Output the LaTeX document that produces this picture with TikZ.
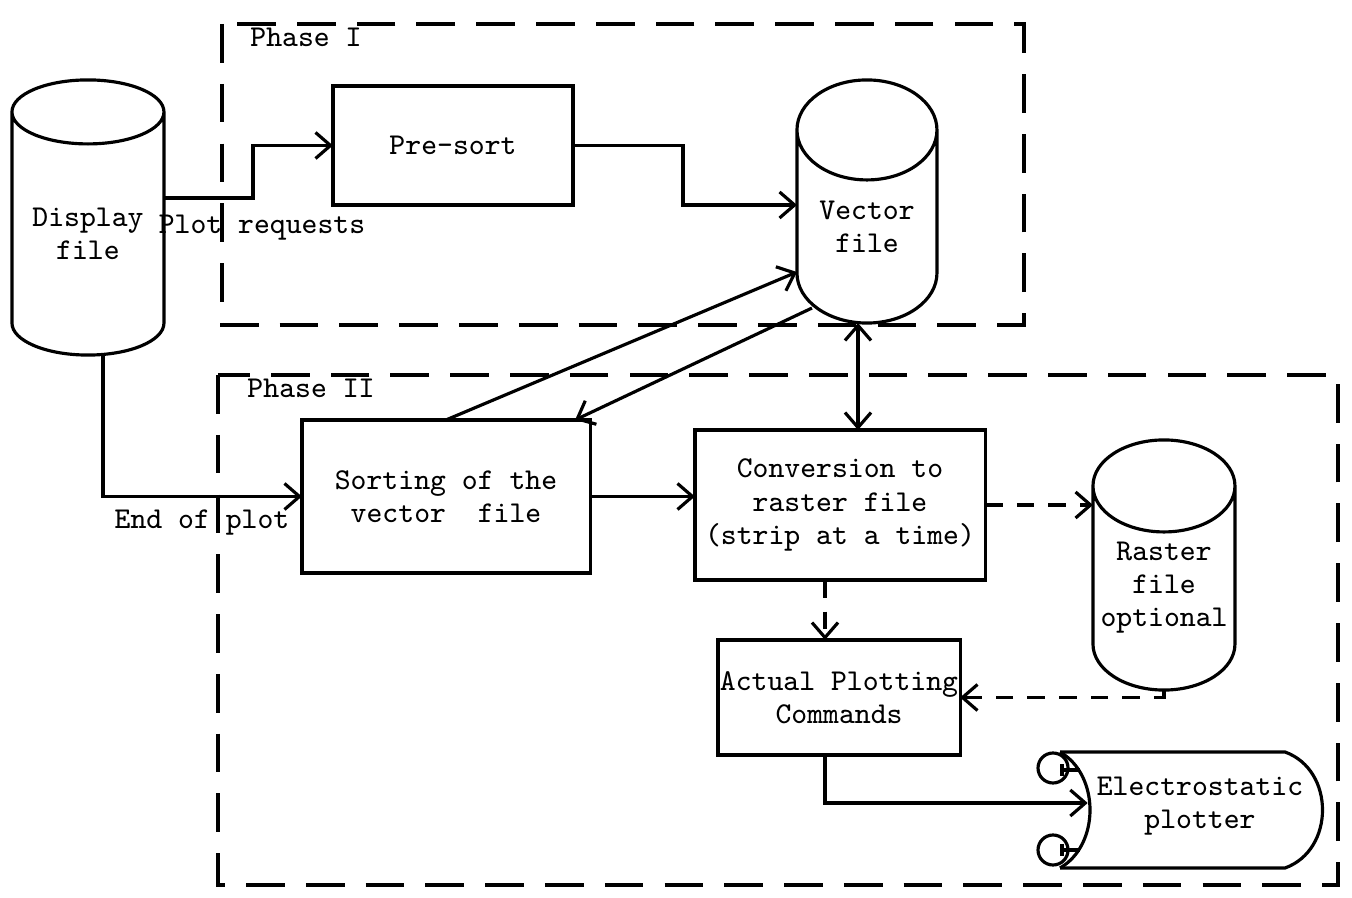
\documentclass[tikz,border=0pt]{standalone}
\usepackage{fontspec}
\usepackage{tikz}
\usetikzlibrary{arrows.meta, positioning, calc}

% drum outline round a named node: node, x radius, y radius
\newcommand{\drum}[3]{%
  \draw[line width=0.9pt] (#1.north west) arc[start angle=180, end angle=-180, x radius=#2, y radius=#3]
    -- ($(#1.south west)+(0,#3)$) arc[start angle=180, end angle=360, x radius=#2, y radius=#3]
    -- (#1.north east);
}

\begin{document}
\begin{tikzpicture}[x=0.01cm, y=0.01cm,
  every node/.style={font=\fontsize{8.6}{9.4}\selectfont\ttfamily},
  box/.style={draw, line width=0.9pt, inner sep=0pt, outer sep=0pt, align=center},
  drumnode/.style={inner sep=0pt, outer sep=0pt, align=center},
  arr/.style={line width=0.9pt, -{Straight Barb[length=1.5mm, width=2.6mm]}},
  darr/.style={arr, dash pattern=on 5pt off 4pt},
  phase/.style={line width=0.9pt, dash pattern=on 11pt off 6pt},
]
  \useasboundingbox (0,0) rectangle (1352,-898);

  % Phase frames
  \draw[phase] (222,-24) rectangle (1024,-325);
  \draw[phase] (218,-375) rectangle (1338,-885);
  \node (ph1) at (306,-37) {Phase I};
  \node (ph2) at (311,-388) {Phase II};

  % Files
  \node[drumnode, minimum width=1.52cm, minimum height=2.43cm] (disp) at (88,-233.5) {Display\\file};
  \node[drumnode, minimum width=1.40cm, minimum height=1.93cm] (vector) at (867,-226.5) {Vector\\file};
  \node[drumnode, minimum width=1.42cm, minimum height=2.04cm] (raster) at (1164,-588) {Raster\\file\\optional};
  \drum{disp}{76}{32}
  \drum{vector}{70}{50}
  \drum{raster}{71}{46}

  % Processing steps
  \node[box, minimum width=2.40cm, minimum height=1.19cm] (presort) at (453,-145.5) {Pre-sort};
  \node[box, minimum width=2.88cm, minimum height=1.53cm] (sort) at (446,-496.5) {Sorting of the\\vector~~file};
  \node[box, minimum width=2.90cm, minimum height=1.50cm] (conv) at (840,-505) {Conversion to\\raster file\\(strip at a time)};
  \node[box, minimum width=2.42cm, minimum height=1.15cm] (act) at (839,-697.5) {Actual Plotting\\Commands};

  % Electrostatic plotter
  \node[inner sep=0pt, align=center, minimum width=2.63cm, minimum height=1.16cm] (plot) at (1200,-806) {Electrostatic\\plotter};
  \draw[line width=0.9pt] (1060,-752) -- (1285,-752) .. controls (1335,-770) and (1335,-850) .. (1285,-868) -- (1060,-868);
  \draw[line width=0.9pt] (1060,-752) .. controls (1100,-775) and (1100,-845) .. (1060,-868);
  \draw[line width=0.9pt] (1053,-768) circle[radius=15];
  \draw[line width=0.9pt] (1053,-850) circle[radius=15];
  \draw[line width=0.9pt] (1062,-764) -- (1062,-776) (1062,-770) -- (1080,-770);
  \draw[line width=0.9pt] (1062,-844) -- (1062,-856) (1062,-850) -- (1080,-850);

  % Phase I flow
  \draw[arr] ([yshift=0.355cm]disp.east) -- ++(89,0) |- (presort.west);
  \node (plotreq) at (262,-228) {Plot requests};
  \draw[arr] (presort.east) -- ++(110,0) |- ([yshift=0.215cm]vector.west);

  % Phase II flow
  \draw[arr] ([xshift=0.15cm]disp.south) |- (sort.west);
  \node (endplot) at (202,-523) {End of plot};
  \draw[arr] (sort.north) -- ([yshift=-0.455cm]vector.west);
  \draw[arr] ($(vector.south west)+(15,15)$) -- ([xshift=-0.15cm]sort.north east);
  \draw[{Straight Barb[length=1.5mm, width=2.6mm]}-{Straight Barb[length=1.5mm, width=2.6mm]}, line width=0.9pt]
    ([xshift=-0.09cm]vector.south) -- ([xshift=-0.09cm]vector.south |- conv.north);
  \draw[arr] (sort.east) -- (sort.east -| conv.west);
  \draw[darr] (conv.east) -- (conv.east -| raster.west);
  \draw[darr] ([xshift=-0.14cm]act.north |- conv.south) -- ([xshift=-0.14cm]act.north);
  \draw[darr] (raster.south) |- (act.east);
  \draw[arr] ([xshift=-0.14cm]act.south) |- ($(plot.west)+(20,3)$);
\end{tikzpicture}
\end{document}
